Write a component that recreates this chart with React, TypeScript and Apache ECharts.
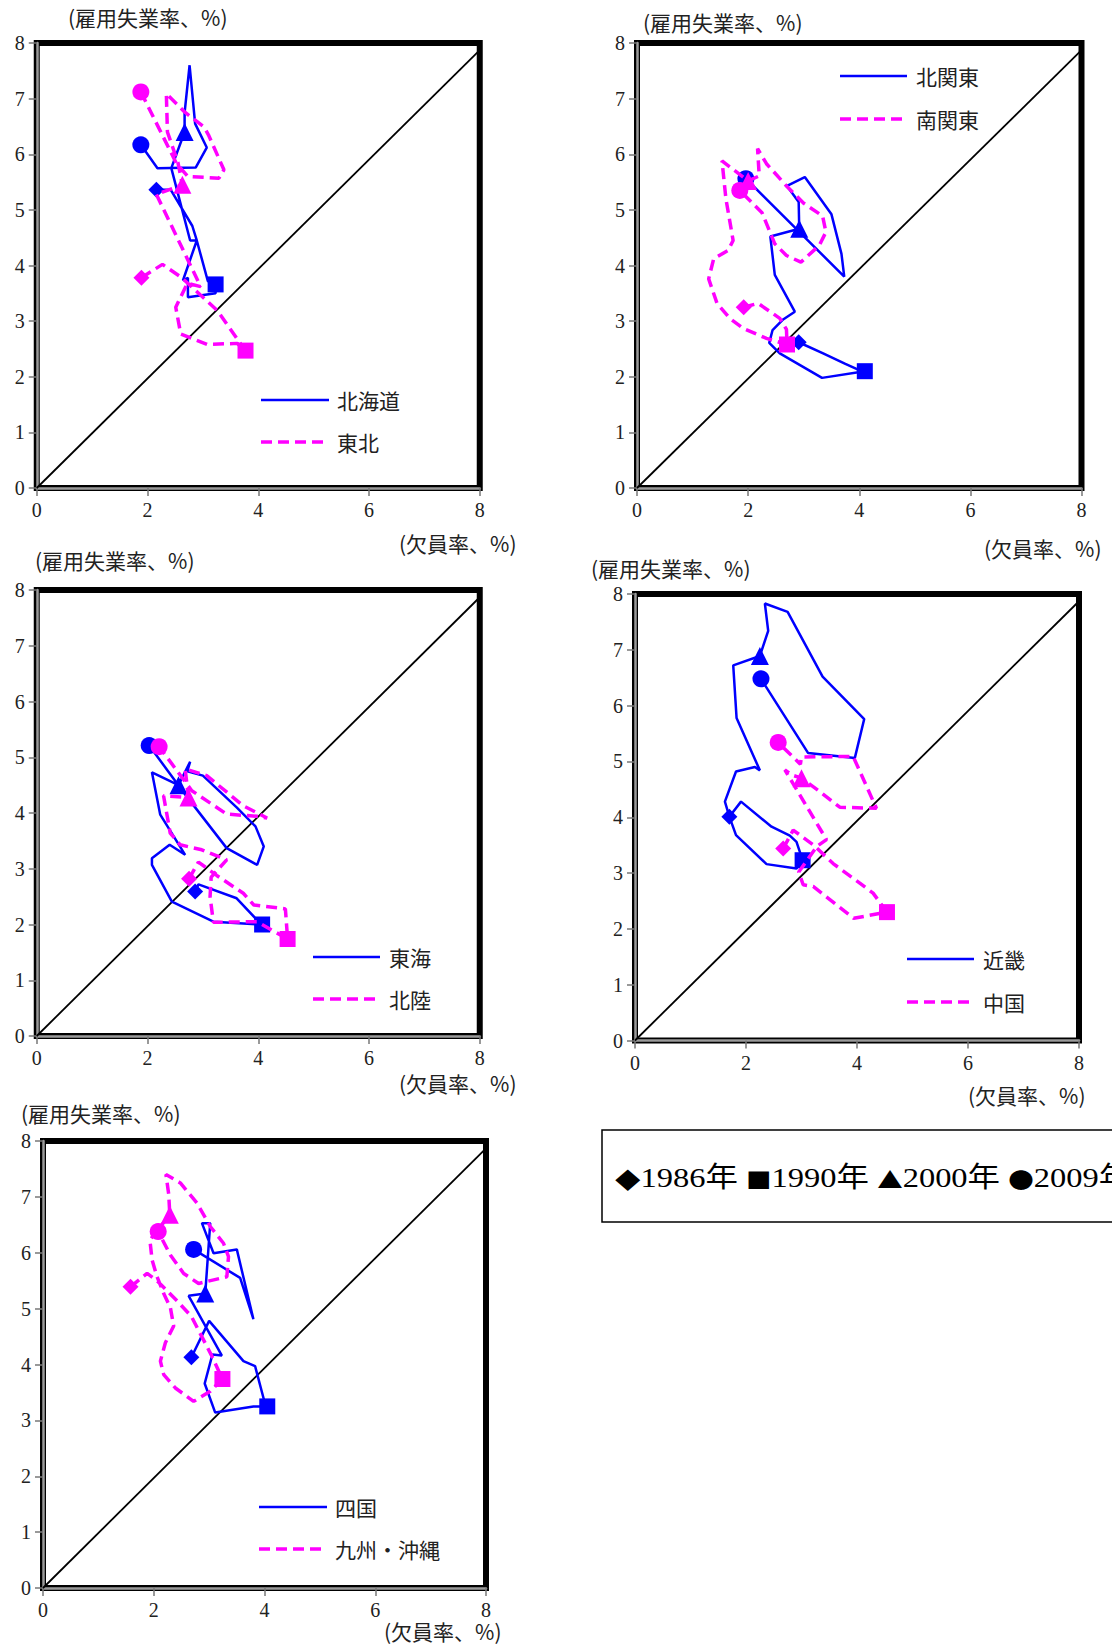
import React, { useEffect, useRef } from 'react';
import * as echarts from 'echarts';

// ---- data: [欠員率, 雇用失業率] ----
const hokkaido = [[2.16,5.36],[2.42,5.36],[2.81,4.71],[2.89,4.45],[3.09,3.72],[3.23,3.66],[3.23,3.50],[2.73,3.43],[2.73,3.78],[2.64,3.73],[2.89,4.45],[2.77,4.45],[2.43,5.75],[2.67,6.40],[2.67,6.75],[2.76,7.60],[2.86,6.55],[3.07,6.12],[2.87,5.76],[2.18,5.75],[1.88,6.17]];
const hokkaidoMarks = [0, 5, 13, 20];
const tohoku = [[1.89,3.78],[2.27,4.02],[2.62,3.78],[3.26,3.19],[3.62,2.68],[3.77,2.47],[3.62,2.60],[3.08,2.58],[2.60,2.77],[2.51,3.25],[2.72,3.68],[2.96,3.62],[2.16,5.28],[2.63,5.45],[2.55,5.85],[2.36,6.40],[2.34,7.09],[2.67,6.76],[3.02,6.49],[3.10,6.35],[3.38,5.72],[3.29,5.57],[2.73,5.60],[2.52,5.84],[1.88,7.12]];
const tohokuMarks = [0, 5, 13, 24];

const kitaKanto = [[2.91,2.62],[3.35,2.42],[3.75,2.23],[3.95,2.14],[4.10,2.10],[3.33,1.98],[2.57,2.42],[2.38,2.61],[2.44,2.84],[2.63,3.03],[2.84,3.17],[2.48,3.83],[2.40,4.52],[2.92,4.66],[2.91,5.14],[2.70,5.43],[3.02,5.59],[3.50,4.92],[3.68,4.21],[3.73,3.80],[1.96,5.56]];
const kitaKantoMarks = [0, 4, 13, 20];
const minamiKanto = [[1.92,3.25],[2.18,3.32],[2.57,3.05],[2.69,2.85],[2.70,2.58],[2.33,2.69],[1.91,2.87],[1.67,3.05],[1.44,3.32],[1.29,3.76],[1.38,4.12],[1.64,4.27],[1.73,4.45],[1.60,5.20],[1.53,5.88],[2.00,5.52],[2.20,5.61],[2.17,6.10],[2.33,5.83],[2.69,5.43],[3.00,5.12],[3.34,4.89],[3.40,4.60],[3.28,4.36],[2.95,4.06],[2.69,4.18],[2.48,4.39],[2.25,4.95],[1.85,5.35]];
const minamiKantoMarks = [0, 4, 15, 28];

const tokai = [[2.86,2.59],[2.92,2.72],[3.61,2.47],[3.98,2.08],[4.07,2.00],[3.19,2.05],[2.44,2.41],[2.08,3.07],[2.08,3.19],[2.40,3.43],[2.68,3.25],[2.23,3.97],[2.08,4.73],[2.56,4.50],[2.77,4.92],[2.72,4.75],[3.00,4.67],[3.61,4.10],[3.95,3.76],[4.10,3.40],[3.98,3.07],[3.43,3.37],[2.72,4.28],[2.03,5.21]];
const tokaiMarks = [0, 4, 13, 23];
const hokuriku = [[2.75,2.82],[2.92,3.12],[3.25,2.88],[3.73,2.56],[3.92,2.35],[4.49,2.28],[4.53,1.74],[3.98,2.05],[3.19,2.04],[3.13,2.50],[3.15,2.85],[3.43,3.16],[2.98,3.34],[2.59,3.43],[2.41,3.64],[2.29,4.31],[2.74,4.28],[2.68,4.79],[3.07,4.67],[3.73,4.13],[4.16,3.91],[3.98,3.94],[3.43,3.98],[3.16,4.16],[2.80,4.40],[2.21,5.19]];
const hokurikuMarks = [0, 6, 16, 25];

const kinki = [[1.70,4.01],[1.82,3.68],[2.37,3.16],[2.91,3.08],[3.02,3.23],[2.91,3.56],[2.79,3.67],[2.46,3.83],[1.91,4.28],[1.70,4.01],[1.62,4.28],[1.82,4.82],[2.16,4.90],[2.25,4.84],[1.83,5.78],[1.77,6.72],[2.25,6.89],[2.40,7.34],[2.34,7.83],[2.75,7.68],[3.38,6.52],[4.13,5.76],[3.96,5.06],[3.12,5.15],[2.27,6.48]];
const kinkiMarks = [0, 4, 16, 24];
const chugoku = [[2.67,3.44],[2.85,3.77],[3.22,3.50],[3.57,3.17],[4.05,2.82],[4.29,2.64],[4.54,2.30],[3.94,2.19],[3.21,2.76],[3.03,2.79],[2.95,3.02],[3.28,3.48],[3.45,3.60],[2.70,4.85],[2.82,4.76],[3.00,4.70],[3.33,4.46],[3.69,4.18],[4.35,4.16],[3.93,5.09],[3.00,5.08],[2.98,4.95],[2.58,5.34]];
const chugokuMarks = [0, 6, 15, 22];

const shikoku = [[2.68,4.13],[3.00,4.78],[3.62,4.06],[3.83,3.97],[3.99,3.37],[4.05,3.25],[3.80,3.25],[3.11,3.14],[2.92,3.66],[3.06,4.18],[3.23,4.16],[2.63,5.23],[2.93,5.27],[3.02,6.53],[2.87,6.53],[3.08,5.99],[3.50,6.06],[3.80,4.81],[3.56,5.55],[2.72,6.06]];
const shikokuMarks = [0, 5, 12, 19];
const kyushu = [[1.58,5.39],[1.88,5.63],[2.06,5.50],[2.42,5.14],[2.68,4.86],[3.05,4.15],[3.24,3.74],[3.02,3.52],[2.72,3.34],[2.39,3.58],[2.18,3.82],[2.12,4.06],[2.21,4.39],[2.36,4.69],[2.30,5.02],[2.18,5.27],[2.06,5.57],[1.97,5.87],[1.93,6.23],[2.29,6.68],[2.27,7.05],[2.22,7.40],[2.48,7.25],[2.78,6.89],[3.02,6.47],[3.26,6.17],[3.35,5.93],[3.32,5.57],[2.81,5.45],[2.54,5.63],[2.30,5.96],[2.08,6.38]];
const kyushuMarks = [0, 6, 19, 31];

const diagonal = [[0, 0], [8, 7.87]];
const regionNames = [['北海道', '東北'], ['北関東', '南関東'], ['東海', '北陸'], ['近畿', '中国'], ['四国', '九州・沖縄']];
const yearSymbols = ['◆', '■', '▲', '●'];
const yearLabels = ['1986年', '1990年', '2000年', '2009年'];
const yTitle = '(雇用失業率、%)';
const xTitle = '(欠員率、%)';

const panelData = [
  [hokkaido, hokkaidoMarks, tohoku, tohokuMarks],
  [kitaKanto, kitaKantoMarks, minamiKanto, minamiKantoMarks],
  [tokai, tokaiMarks, hokuriku, hokurikuMarks],
  [kinki, kinkiMarks, chugoku, chugokuMarks],
  [shikoku, shikokuMarks, kyushu, kyushuMarks],
];

// ---- layout ----
const layouts = [
  { left: 36.75, top: 43, width: 443, height: 445, yT: [68, 17], xT: [399, 543], lg: [261, 329, 400, 442, 337] },
  { left: 637, top: 43, width: 444.5, height: 445, yT: [643, 22], xT: [984, 548], lg: [840, 907, 76, 119, 916] },
  { left: 36.75, top: 590, width: 443, height: 446, yT: [35, 560], xT: [399, 1083], lg: [313, 380, 957, 999, 389] },
  { left: 635, top: 594, width: 444, height: 446.5, yT: [591, 568], xT: [968, 1095], lg: [907, 974, 959, 1002, 983] },
  { left: 43, top: 1141, width: 443, height: 447, yT: [21, 1113], xT: [384, 1631], lg: [259, 327, 1507, 1549, 335] },
];

const BLUE = '#0000FF';
const MAGENTA = '#FF00FF';
const DASH = [11, 6];
const MARK_SYMBOLS = ['diamond', 'rect', 'triangle', 'circle'];
const MARK_SIZES = [16, 16, 18, 17];
const SERIF = '"Liberation Serif", "DejaVu Serif", serif';
const CJK = '"Noto Sans CJK JP", sans-serif';

function buildData(points: number[][], marks: number[]) {
  return points.map((p, i) => {
    const k = marks.indexOf(i);
    if (k < 0) return { value: p };
    return { value: p, symbol: MARK_SYMBOLS[k], symbolSize: MARK_SIZES[k] };
  });
}

function buildOption() {
  const grid: any[] = [];
  const xAxis: any[] = [];
  const yAxis: any[] = [];
  const series: any[] = [];
  const graphic: any[] = [];

  layouts.forEach((L, i) => {
    grid.push({ left: L.left, top: L.top, width: L.width, height: L.height, show: true, borderColor: '#000', borderWidth: 6, backgroundColor: 'transparent' });
    const axisCommon = {
      gridIndex: i, type: 'value', min: 0, max: 8,
      axisLine: { show: true, onZero: false, lineStyle: { color: '#9a9a9a', width: 2.5 } },
      axisTick: { show: true, length: 8, lineStyle: { color: '#777', width: 1.5 } },
      axisLabel: { fontFamily: SERIF, fontSize: 20, color: '#222', margin: 12 },
      splitLine: { show: false },
    };
    xAxis.push({ ...axisCommon, interval: 2 });
    yAxis.push({ ...axisCommon, interval: 1 });

    const [bPts, bMarks, mPts, mMarks] = panelData[i] as any;
    series.push({
      type: 'line', xAxisIndex: i, yAxisIndex: i, data: diagonal, symbol: 'none', silent: true, z: 1,
      lineStyle: { color: '#000', width: 1.8 },
    });
    series.push({
      name: regionNames[i][0], type: 'line', xAxisIndex: i, yAxisIndex: i, data: buildData(bPts, bMarks),
      symbol: 'none', silent: true, z: 2, clip: false,
      lineStyle: { color: BLUE, width: 2.5 }, itemStyle: { color: BLUE },
    });
    series.push({
      name: regionNames[i][1], type: 'line', xAxisIndex: i, yAxisIndex: i, data: buildData(mPts, mMarks),
      symbol: 'none', silent: true, z: 3, clip: false,
      lineStyle: { color: MAGENTA, width: 3.5, type: DASH }, itemStyle: { color: MAGENTA },
    });

    graphic.push({ type: 'text', x: L.yT[0], y: L.yT[1], style: { text: yTitle, font: `21px ${CJK}`, fill: '#222', verticalAlign: 'middle', textVerticalAlign: 'middle' } });
    graphic.push({ type: 'text', x: L.xT[0], y: L.xT[1], style: { text: xTitle, font: `21px ${CJK}`, fill: '#222', verticalAlign: 'middle', textVerticalAlign: 'middle' } });
    const [lx0, lx1, ly1, ly2, tx] = L.lg;
    graphic.push({ type: 'line', shape: { x1: lx0, y1: ly1, x2: lx1, y2: ly1 }, style: { stroke: BLUE, lineWidth: 2.5 } });
    graphic.push({ type: 'line', shape: { x1: lx0, y1: ly2, x2: lx1, y2: ly2 }, style: { stroke: MAGENTA, lineWidth: 3.5, lineDash: DASH } });
    graphic.push({ type: 'text', x: tx, y: ly1, style: { text: regionNames[i][0], font: `21px ${CJK}`, fill: '#222', verticalAlign: 'middle', textVerticalAlign: 'middle' } });
    graphic.push({ type: 'text', x: tx, y: ly2, style: { text: regionNames[i][1], font: `21px ${CJK}`, fill: '#222', verticalAlign: 'middle', textVerticalAlign: 'middle' } });
  });

  const yearText = yearSymbols.map((s, k) => `{s|${s}}{n|${yearLabels[k]}}`).join('{n| }');
  graphic.push({ type: 'rect', shape: { x: 602, y: 1130, width: 560, height: 92 }, style: { fill: '#fff', stroke: '#000', lineWidth: 1.5 }, z: -1 });
  graphic.push({
    type: 'text', x: 615, y: 1178, scaleX: 1.16, scaleY: 1,
    style: {
      text: yearText, fill: '#000', verticalAlign: 'middle', textVerticalAlign: 'middle',
      rich: {
        s: { fontFamily: CJK, fontSize: 22, fill: '#000', color: '#000' },
        n: { fontFamily: `"Liberation Serif", "Noto Sans CJK JP", serif`, fontSize: 28, fill: '#000', color: '#000' },
      },
    },
  });

  return { animation: false, backgroundColor: '#fff', grid, xAxis, yAxis, series, graphic };
}

export default function App() {
  const ref = useRef<HTMLDivElement>(null);
  useEffect(() => {
    if (!ref.current) return;
    const chart = echarts.init(ref.current, null, { renderer: 'svg' });
    chart.setOption(buildOption() as any);
    return () => chart.dispose();
  }, []);
  return <div ref={ref} style={{ position: 'absolute', left: 0, top: 0, width: 1112, height: 1647 }} />;
}
